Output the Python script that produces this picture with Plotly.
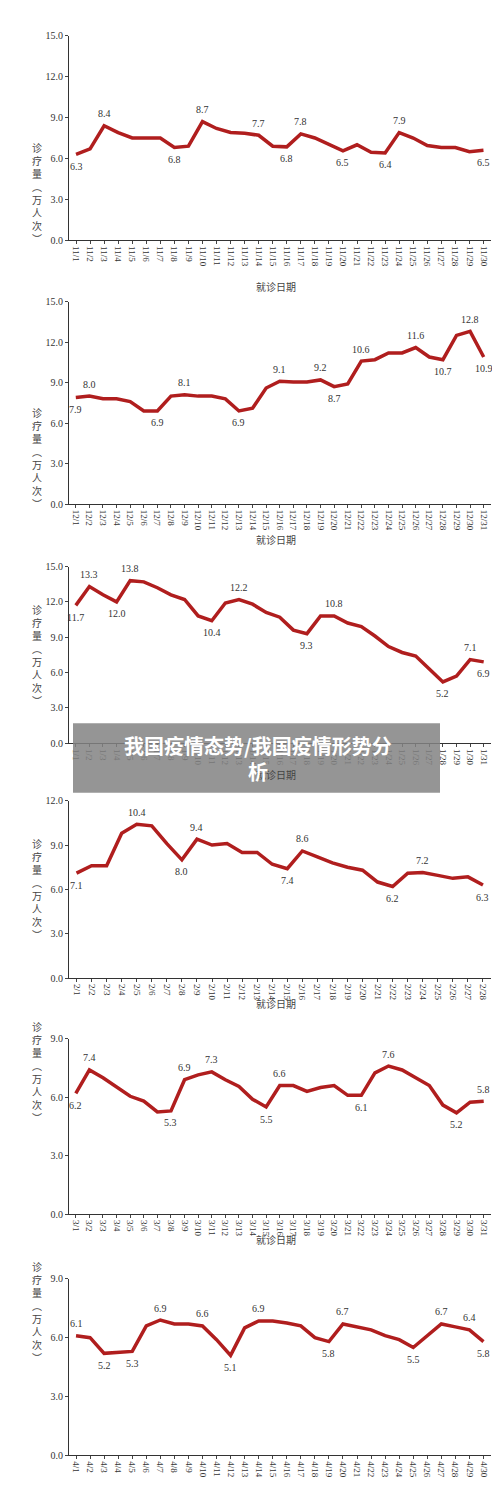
import plotly.graph_objects as go

nov = [6.3, 6.7, 8.4, 7.9, 7.5, 7.5, 7.5, 6.8, 6.9, 8.7, 8.2, 7.9, 7.85, 7.7, 6.9,
       6.85, 7.8, 7.5, 7.0, 6.55, 7.0, 6.45, 6.4, 7.9, 7.5, 6.95, 6.8, 6.8, 6.5, 6.6]
dec = [7.9, 8.0, 7.8, 7.8, 7.6, 6.9, 6.9, 8.0, 8.1, 8.0, 8.0, 7.8, 6.9, 7.1, 8.6, 9.1,
       9.05, 9.05, 9.2, 8.7, 8.9, 10.6, 10.7, 11.2, 11.2, 11.6, 10.9, 10.7, 12.5, 12.8, 10.9]
jan = [11.7, 13.3, 12.6, 12.0, 13.8, 13.7, 13.2, 12.6, 12.2, 10.8, 10.4, 11.9, 12.2, 11.8,
       11.1, 10.7, 9.6, 9.3, 10.8, 10.8, 10.2, 9.9, 9.1, 8.2, 7.7, 7.4, 6.3, 5.2, 5.7, 7.1, 6.9]
feb = [7.1, 7.6, 7.6, 9.8, 10.4, 10.3, 9.1, 8.0, 9.4, 9.0, 9.1, 8.5, 8.5, 7.7, 7.4, 8.6,
       8.2, 7.8, 7.5, 7.3, 6.5, 6.2, 7.1, 7.15, 6.95, 6.75, 6.85, 6.3]
mar = [6.2, 7.4, 7.0, 6.5, 6.05, 5.8, 5.25, 5.3, 6.9, 7.15, 7.3, 6.9, 6.55, 5.9, 5.5, 6.6,
       6.6, 6.3, 6.5, 6.6, 6.1, 6.1, 7.25, 7.6, 7.4, 7.0, 6.6, 5.6, 5.2, 5.75, 5.8]
apr = [6.1, 6.0, 5.2, 5.25, 5.3, 6.6, 6.9, 6.7, 6.7, 6.6, 5.9, 5.1, 6.5, 6.85, 6.85, 6.75,
       6.6, 6.0, 5.8, 6.7, 6.55, 6.4, 6.1, 5.9, 5.5, 6.1, 6.7, 6.55, 6.4, 5.8]

# labelled points: (index, shown text, above?)
nov_lab = [(0, "6.3", 0), (2, "8.4", 1), (7, "6.8", 0), (9, "8.7", 1), (13, "7.7", 1), (15, "6.8", 0),
           (16, "7.8", 1), (19, "6.5", 0), (22, "6.4", 0), (23, "7.9", 1), (29, "6.5", 0)]
dec_lab = [(0, "7.9", 0), (1, "8.0", 1), (6, "6.9", 0), (8, "8.1", 1), (12, "6.9", 0), (15, "9.1", 1),
           (18, "9.2", 1), (19, "8.7", 0), (21, "10.6", 1), (25, "11.6", 1), (27, "10.7", 0),
           (29, "12.8", 1), (30, "10.9", 0)]
jan_lab = [(0, "11.7", 0), (1, "13.3", 1), (3, "12.0", 0), (4, "13.8", 1), (10, "10.4", 0),
           (12, "12.2", 1), (17, "9.3", 0), (19, "10.8", 1), (27, "5.2", 0), (29, "7.1", 1), (30, "6.9", 0)]
feb_lab = [(0, "7.1", 0), (4, "10.4", 1), (7, "8.0", 0), (8, "9.4", 1), (14, "7.4", 0), (15, "8.6", 1),
           (21, "6.2", 0), (23, "7.2", 1), (27, "6.3", 0)]
mar_lab = [(0, "6.2", 0), (1, "7.4", 1), (7, "5.3", 0), (8, "6.9", 1), (10, "7.3", 1), (14, "5.5", 0),
           (15, "6.6", 1), (21, "6.1", 0), (23, "7.6", 1), (28, "5.2", 0), (30, "5.8", 1)]
apr_lab = [(0, "6.1", 1), (2, "5.2", 0), (4, "5.3", 0), (6, "6.9", 1), (9, "6.6", 1), (11, "5.1", 0),
           (13, "6.9", 1), (18, "5.8", 0), (19, "6.7", 1), (24, "5.5", 0), (26, "6.7", 1),
           (28, "6.4", 1), (29, "5.8", 0)]

panels = [
    (11, nov, nov_lab, 15, 22, 228, 265),
    (12, dec, dec_lab, 15, 290, 494, 530),
    (1, jan, jan_lab, 15, 557, 735, 767),
    (2, feb, feb_lab, 12, 793, 972, 1007),
    (3, mar, mar_lab, 9, 1033, 1210, 1245),
    (4, apr, apr_lab, 9, 1275, 1453, None),
]

H = 1501
fig = go.Figure()
layout = {}
annots = []
serif = "Liberation Serif"
for i, (m, vals, labs, ymax, top, bot, xt) in enumerate(panels):
    k = "" if i == 0 else str(i + 1)
    cats = [f"{m}/{d + 1}" for d in range(len(vals))]
    fig.add_trace(go.Scatter(x=cats, y=vals, mode="lines", xaxis="x" + k, yaxis="y" + k,
                             line=dict(color="#b01e1e", width=3.5), showlegend=False))
    layout["xaxis" + k] = dict(domain=[0.122, 0.965], anchor="y" + k, type="category",
                               range=[-0.5, len(vals) - 0.5], tickangle=90, showline=True,
                               linecolor="#333", ticks="outside", ticklen=3, showgrid=False,
                               tickfont=dict(family=serif, size=9, color="#333"))
    layout["yaxis" + k] = dict(domain=[1 - bot / H, 1 - top / H], anchor="x" + k,
                               range=[0, ymax], dtick=3, tickformat=".1f", showline=True,
                               linecolor="#333", ticks="outside", ticklen=3, showgrid=False,
                               zeroline=False, tickfont=dict(family=serif, size=10, color="#333"))
    for idx, txt, up in labs:
        annots.append(dict(x=cats[idx], y=vals[idx], xref="x" + k, yref="y" + k, text=txt,
                           showarrow=False, yshift=12 if up else -12,
                           font=dict(family=serif, size=10, color="#333")))
    mid = 1 - (top + bot) / 2 / H
    annots.append(dict(x=22 / 500, y=mid, xref="paper", yref="paper", showarrow=False,
                       text="诊<br>疗<br>量<br>︵<br>万<br>人<br>次<br>︶",
                       font=dict(family="Noto Sans CJK SC", size=10, color="#444")))
    if xt:
        annots.append(dict(x=0.535, y=1 - xt / H, xref="paper", yref="paper", showarrow=False,
                           text="就诊日期", font=dict(family="Noto Sans CJK SC", size=10, color="#444")))

annots.append(dict(x=0.5, y=1 - 750 / H, xref="paper", yref="paper", showarrow=False,
                   text="<b>我国疫情态势/我国疫情形势分<br>析</b>",
                   font=dict(family="Noto Sans CJK SC", size=20, color="white")))
fig.update_layout(width=500, height=H, margin=dict(l=0, r=0, t=0, b=0),
                  plot_bgcolor="white", paper_bgcolor="white", annotations=annots,
                  shapes=[dict(type="rect", xref="paper", yref="paper", x0=65 / 500, x1=432 / 500,
                               y0=1 - 785 / H, y1=1 - 715 / H, fillcolor="rgba(130,130,130,0.85)",
                               line_width=0, layer="above")],
                  **layout)
fig.write_html("out.html")
